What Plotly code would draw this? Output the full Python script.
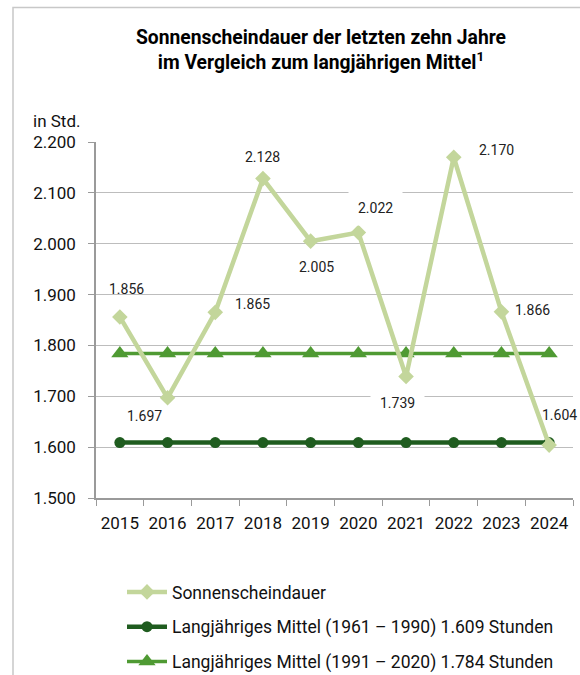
import plotly.graph_objects as go

years = ["2015", "2016", "2017", "2018", "2019", "2020", "2021", "2022", "2023", "2024"]
sunshine = [1856, 1697, 1865, 2128, 2005, 2022, 1739, 2170, 1866, 1604]
mean_1961_1990 = [1609] * 10
mean_1991_2020 = [1784] * 10
# label offsets in pixels (dx, dy) relative to each point
label_offsets = [(7, -28), (-23, 18), (37, -8), (0, -22), (6, 26),
                 (17, -25), (-9, 27), (43, -7), (31, -2), (10, -30)]
label_bg = [False, False, False, False, False, True, True, False, False, False]

FONT = "Roboto, Liberation Sans, sans-serif"
W, H = 580, 675
# plot area in pixel coords: x 96..573, y 142..498
PX0, PX1, PY0, PY1 = 96, 573, 142, 498
ML, MT = PX0, PY0
MR, MB = W - PX1, H - PY1
PW, PH = PX1 - PX0, PY1 - PY0


def px(xr):
    return (xr - PX0) / PW


def py(yr):
    return (PY1 - yr) / PH


LIGHT = "#c3d69b"
DARK = "#1f5c1f"
MID = "#4f9a33"

fig = go.Figure()
fig.add_trace(go.Scatter(
    x=years, y=mean_1961_1990, mode="lines+markers",
    name="Langjähriges Mittel (1961 – 1990) 1.609 Stunden",
    line=dict(color=DARK, width=4.5),
    marker=dict(symbol="circle", size=11, color=DARK),
    legendrank=2, legendgroup="b",
))
fig.add_trace(go.Scatter(
    x=years, y=mean_1991_2020, mode="lines+markers",
    name="Langjähriges Mittel (1991 – 2020) 1.784 Stunden",
    line=dict(color=MID, width=3.5),
    marker=dict(symbol="triangle-up", size=15, color=MID),
    legendrank=3, legendgroup="c",
))
fig.add_trace(go.Scatter(
    x=years, y=sunshine, mode="lines+markers",
    name="Sonnenscheindauer",
    line=dict(color=LIGHT, width=4.5),
    marker=dict(symbol="diamond", size=12, color=LIGHT),
    legendrank=1, legendgroup="a",
))

for i, (v, (dx, dy), bg) in enumerate(zip(sunshine, label_offsets, label_bg)):
    ann = dict(
        x=i, y=v, xref="x", yref="y", showarrow=False,
        text=f"{v:,}".replace(",", "."),
        xshift=dx, yshift=-dy,
        font=dict(family=FONT, size=14, color="#222222"),
    )
    if bg:
        ann.update(bgcolor="white", borderpad=9)
    fig.add_annotation(**ann)

fig.add_annotation(
    x=px(31), y=py(121), xref="paper", yref="paper",
    xanchor="left", yanchor="middle", showarrow=False, text="in Std.",
    font=dict(family=FONT, size=17, color="#111111"),
)

# outer frame
fig.add_shape(type="rect", xref="paper", yref="paper",
              x0=px(13), x1=px(590), y0=py(690), y1=py(7.5),
              line=dict(color="#c8c8c8", width=1.5), fillcolor="rgba(0,0,0,0)",
              layer="below")

fig.update_layout(
    width=W, height=H,
    margin=dict(l=ML, r=MR, t=MT, b=MB, autoexpand=False),
    paper_bgcolor="white", plot_bgcolor="white",
    separators=",.",
    font=dict(family=FONT, size=17, color="#111111"),
    title=dict(
        text="<b>Sonnenscheindauer der letzten zehn Jahre<br>im Vergleich zum langjährigen Mittel<sup>1</sup></b>",
        x=321 / W, xanchor="center", y=1 - 44 / H, yanchor="middle",
        font=dict(family=FONT, size=19.3, color="#000000"),
    ),
    xaxis=dict(
        type="category", range=[-0.5, 9.5],
        showline=True, linecolor="#9a9a9a", linewidth=1.5,
        ticks="outside", tickson="boundaries", ticklen=6, tickcolor="#9a9a9a",
        showgrid=False, tickfont=dict(size=17), tickangle=0,
        ticklabelstandoff=9,
    ),
    yaxis=dict(
        range=[1500, 2200], dtick=100, tickformat=",.0f",
        showline=True, linecolor="#9a9a9a", linewidth=1.5,
        ticks="outside", ticklen=6, tickcolor="#9a9a9a",
        showgrid=True, gridcolor="#bdbdbd", gridwidth=1,
        zeroline=False, tickfont=dict(size=17), ticklabelstandoff=9,
    ),
    showlegend=True,
    legend=dict(
        x=px(122), y=py(680), xanchor="left", yanchor="bottom",
        font=dict(family=FONT, size=17.5, color="#111111"),
        tracegroupgap=9, itemwidth=40, bgcolor="rgba(0,0,0,0)",
    ),
)

fig.write_html("out.html", config={"displayModeBar": False},
               post_script="document.body.style.margin='0px';")
